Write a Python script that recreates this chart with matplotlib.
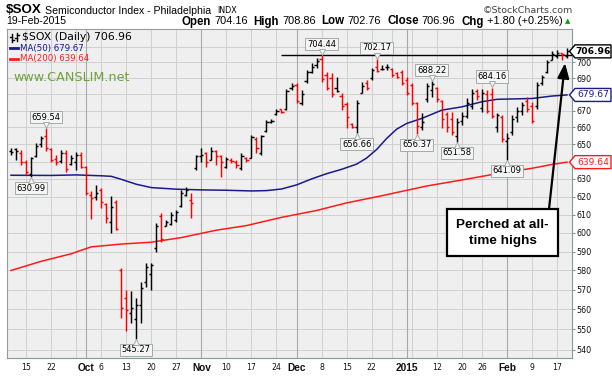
import numpy as np
import pandas as pd
import matplotlib
matplotlib.use('Agg')
import matplotlib.pyplot as plt
from matplotlib.transforms import IdentityTransform, offset_copy
from matplotlib.patches import Polygon, Rectangle, FancyArrowPatch, ArrowStyle
from matplotlib.lines import Line2D
from matplotlib.ticker import FixedLocator, NullLocator, FuncFormatter

plt.rcParams['font.family'] = ['DejaVu Sans']

# ---------------- data ----------------
start_date, end_date = '2014-09-10', '2015-02-19'
holidays = ['2014-11-27', '2014-12-25', '2015-01-01', '2015-01-19', '2015-02-16']

opens = [646, 647, 645, 640, 633, 643, 650, 655, 647, 641.5,
         640.5, 645, 638.5, 640, 644, 637, 621, 620, 624, 616,
         606, 617, 580, 566, 558, 555, 562, 574, 578, 592,
         609, 604, 605, 607, 615, 621, 618, 636, 643, 645,
         641, 646, 643, 637, 641, 640, 636, 642, 642, 653,
         645, 658, 663, 668, 671, 671, 684, 686, 675, 688,
         694, 698, 702, 692, 690, 684, 679, 674, 662, 660,
         681, 687, 690, 697, 696, 697, 696, 693, 694, 689,
         686, 675, 660, 677, 683, 684, 676, 668, 665, 655,
         664, 667, 673, 682, 672, 680, 680, 660, 666, 652,
         657, 666, 670, 676, 673, 673, 687, 694, 701.5, 704,
         706, 704.16]
highs = [647.7, 647.7, 646.7, 640.9, 642.8, 650.6, 655, 659.54, 647.7, 643.8,
         646.7, 646.7, 643.8, 645.7, 645.7, 637.4, 622.9, 626.6, 624.8, 616.4,
         620.1, 618.2, 581.2, 569.9, 569.1, 565.6, 574.2, 583.9, 583.9, 605.3,
         610.8, 607.1, 611.7, 612.6, 623.8, 625.7, 622, 643.8, 647.7, 645.7,
         648.6, 646.7, 643.8, 642.8, 641.9, 640.9, 644.8, 642.8, 655.5, 654.5,
         655.5, 664.4, 664.8, 671.4, 671.4, 683.6, 686.8, 686.8, 682.6, 695.1,
         699.3, 702.6, 704.44, 694, 693, 690.9, 680.6, 675.5, 662.4, 676.5,
         687.8, 688.8, 696.2, 702.17, 698.3, 698.9, 696.2, 694, 695.1, 690.9,
         687, 675.5, 668.4, 686.8, 688.22, 684.7, 676.5, 669.4, 669.4, 665.4,
         669.4, 677.5, 683.6, 683.6, 683.6, 682.6, 684.16, 668.4, 667.4, 656.5,
         667.4, 672.4, 675.5, 678.6, 675.5, 687.8, 691.9, 701.4, 706.9, 707.9,
         706.2, 708.86]
lows = [643.8, 640.9, 638, 632.3, 630.99, 642.8, 648.5, 646, 639.9, 638,
        639, 634.2, 638, 635.1, 636.1, 621, 607.5, 618.2, 613.6, 605.3,
        599.8, 601.6, 555.5, 548.9, 553, 545.27, 553, 571.6, 569.9, 589.7,
        595.3, 603.8, 604.4, 606.2, 614.5, 620.1, 608.1, 635.1, 640, 637.1,
        640.9, 638, 631.3, 636.1, 639, 636.1, 635.1, 640, 641.9, 644.8,
        643.8, 657.5, 662.4, 667.4, 668.4, 670.4, 682.6, 674.5, 673.5, 686.8,
        693, 696.2, 687.8, 682.6, 678.6, 681.6, 670.4, 659.5, 659.5, 656.66,
        680.6, 682.6, 688.8, 694, 695.1, 695.1, 690.9, 689.9, 685.7, 679.6,
        673.5, 656.37, 658.4, 675.5, 678.6, 675.5, 659.5, 657.5, 655.5, 651.58,
        661.4, 665.4, 671.4, 676.5, 669.4, 668.4, 665.4, 657.5, 651.6, 641.09,
        655.5, 663.4, 667.4, 669.4, 662.4, 671.4, 685.7, 693, 701.4, 702.6,
        701.4, 702.76]
closes = [645.5, 646, 639.5, 634, 642, 649, 654, 648, 641, 640,
          645, 635.5, 642, 644, 637, 622, 619, 622, 617, 608,
          614, 602, 560.6, 559.7, 560.5, 562.3, 571, 582, 583, 604,
          596.5, 606, 610, 611.5, 622, 624, 616.4, 643, 644, 640,
          646, 643, 640, 641.5, 640.5, 638, 643, 641, 654.5, 648,
          655, 663, 664, 670, 669, 682, 685, 676, 680, 694,
          697, 701, 689.5, 684, 680, 682, 673, 666, 660.5, 675,
          685, 684, 695, 694.5, 696, 697, 692, 691, 687, 681,
          675, 661, 663, 685, 686.5, 677, 665, 660, 657, 663,
          667, 675, 681, 679, 681, 670, 667, 667.5, 653, 654,
          665, 670, 673.5, 671, 664, 686, 690.5, 700, 705, 706,
          705.16, 706.96]

ma50_dates = ['2014-09-10', '2014-09-22', '2014-09-29', '2014-10-06', '2014-10-08',
              '2014-10-10', '2014-10-15', '2014-10-20', '2014-10-27', '2014-11-03',
              '2014-11-10', '2014-11-17', '2014-11-20', '2014-11-25', '2014-12-01',
              '2014-12-04', '2014-12-09', '2014-12-12', '2014-12-17', '2014-12-19',
              '2014-12-23', '2014-12-26', '2014-12-30', '2015-01-02', '2015-01-07',
              '2015-01-13', '2015-01-20', '2015-01-26', '2015-01-29', '2015-02-09',
              '2015-02-13', '2015-02-19']
ma50_vals = [632.1, 632.0, 632.3, 631.8, 631.5,
             629.8, 627.0, 625.1, 624.2, 623.8,
             623.6, 623.2, 623.4, 624.3, 626.6,
             630.0, 633.0, 635.5, 638.5, 642.0,
             647.0, 653.5, 659.0, 662.4, 665.4,
             670.4, 672.4, 675.5, 677.0, 677.5,
             679.0, 679.67]
ma200_dates = ['2014-09-10', '2014-09-18', '2014-09-26', '2014-10-02', '2014-10-10',
               '2014-10-20', '2014-10-28', '2014-11-06', '2014-11-14', '2014-11-25',
               '2014-12-05', '2014-12-15', '2014-12-24', '2015-01-08', '2015-01-20',
               '2015-01-29', '2015-02-09', '2015-02-13', '2015-02-19']
ma200_vals = [580.0, 584.8, 588.8, 592.5, 594.0,
              595.0, 597.5, 601.5, 604.0, 608.5,
              612.3, 616.5, 620.5, 626.0, 629.4,
              633.0, 636.1, 638.3, 639.64]

tick_dates = ['2014-09-15', '2014-09-22', '2014-10-01', '2014-10-06', '2014-10-13',
              '2014-10-20', '2014-10-27', '2014-11-03', '2014-11-10', '2014-11-17',
              '2014-11-24', '2014-12-01', '2014-12-08', '2014-12-15', '2014-12-22',
              '2015-01-02', '2015-01-12', '2015-01-20', '2015-01-26', '2015-02-02',
              '2015-02-09', '2015-02-17']
tick_labels = ['15', '22', 'Oct', '6', '13', '20', '27', 'Nov', '10', '17', '24',
               'Dec', '8', '15', '22', '2015', '12', '20', '26', 'Feb', '9', '17']
month_labels = ['Oct', 'Nov', 'Dec', '2015', 'Feb']

high_marks = ['2014-09-19', '2014-12-08', '2014-12-23', '2015-01-09', '2015-01-28']
low_marks = ['2014-09-16', '2014-10-15', '2014-12-17', '2015-01-06', '2015-01-16', '2015-02-02']
resistance_level = 704.44
resistance_start = '2014-11-25'
y_ticks = list(range(540, 711, 10))

# ---------------- figure ----------------
W, H = 612, 376
fig = plt.figure(figsize=(W / 100, H / 100), dpi=100)
fig.patch.set_facecolor('white')

dates = pd.bdate_range(start_date, end_date)
dates = dates[~dates.isin(pd.to_datetime(holidays))]
pos = {d.strftime('%Y-%m-%d'): k for k, d in enumerate(dates)}
x = np.arange(len(dates))

o = np.array(opens); h = np.array(highs); l = np.array(lows); c = np.array(closes)
tag_values = [c[-1], ma50_vals[-1], ma200_vals[-1]]

L_px, R_px, T_px, B_px = 7, 572, 29, 358
ax = fig.add_axes([L_px / W, (H - B_px) / H, (R_px - L_px) / W, (B_px - T_px) / H])
ax.set_facecolor('#efefef')
ax.set_yscale('log')
ax.set_ylim(535.9, 721.4)
ax.set_xlim(-0.8, 112.0)
ax.set_axisbelow(True)


def ylab(v, p):
    # tick labels hidden behind the value tags are left blank
    if any(abs(np.log(v / t)) < 0.0065 for t in tag_values):
        return ''
    return f'{v:.0f}'


ax.yaxis.set_major_locator(FixedLocator(y_ticks))
ax.yaxis.set_minor_locator(NullLocator())
ax.yaxis.set_major_formatter(FuncFormatter(ylab))
ax.yaxis.set_minor_formatter(FuncFormatter(lambda v, p: ''))
ax.yaxis.grid(True, color='#d0d0d0', lw=0.7)
wk = [d.isocalendar()[1] for d in dates]
mo = [d.month for d in dates]
for k in range(1, len(dates)):
    if mo[k] != mo[k - 1]:
        ax.axvline(k, color='#a8a8a8', lw=0.8, zorder=0.6)
    elif wk[k] != wk[k - 1]:
        ax.axvline(k, color='#d0d0d0', lw=0.7, zorder=0.5)

# moving averages
ax.plot([pos[d] for d in ma50_dates], ma50_vals, color='#1a1a8c', lw=1.1, zorder=2)
ax.plot([pos[d] for d in ma200_dates], ma200_vals, color='#ff1a1a', lw=1.1, zorder=2)

# OHLC bars
prev = np.r_[c[0], c[:-1]]
cols = np.where(c < prev, '#ff0000', '#000000')
tw = 0.42
ax.vlines(x, l, h, colors=cols, lw=1.05, zorder=3)
ax.hlines(o, x - tw, x, colors=cols, lw=1.05, zorder=3)
ax.hlines(c, x, x + tw, colors=cols, lw=1.05, zorder=3)

# resistance line
ax.hlines(resistance_level, pos[resistance_start], 112.0, color='black', lw=1.0, zorder=2.5)

# price labels with small pointer notch
box = dict(boxstyle='square,pad=0.2', fc='#f4f4f4', ec='#a3aaaa', lw=0.7)
for d in high_marks:
    k = pos[d]
    ax.annotate(f'{h[k]:.2f}', xy=(k, h[k]), xytext=(0, 8), textcoords='offset points',
                ha='center', va='center', fontsize=6, bbox=box, zorder=6)
    ax.plot([k], [h[k]], marker='v', ms=4.5, mfc='#f4f4f4', mec='#a3aaaa', mew=0.7,
            transform=offset_copy(ax.transData, fig, y=3.2, units='dots'), zorder=7)
for d in low_marks:
    k = pos[d]
    ax.annotate(f'{l[k]:.2f}', xy=(k, l[k]), xytext=(0, -8), textcoords='offset points',
                ha='center', va='center', fontsize=6, bbox=box, zorder=6)
    ax.plot([k], [l[k]], marker='^', ms=4.5, mfc='#f4f4f4', mec='#a3aaaa', mew=0.7,
            transform=offset_copy(ax.transData, fig, y=-3.2, units='dots'), zorder=7)

# axes styling
ax.yaxis.tick_right()
ax.tick_params(axis='y', which='major', labelsize=5.8, length=2.5, width=0.7,
               color='#888888', pad=1, labelcolor='#111111')
ax.set_xticks([pos[d] for d in tick_dates])
ax.set_xticklabels(tick_labels)
ax.tick_params(axis='x', length=0, pad=3.5, labelsize=5.6, labelcolor='#111111')
for t in ax.get_xticklabels():
    if t.get_text() in month_labels:
        t.set_fontweight('bold')
        t.set_fontsize(7.3)
        t.set_family('Liberation Sans')
for s in ['left', 'top']:
    ax.spines[s].set_color('#9a9a9a')
    ax.spines[s].set_linewidth(0.8)
for s in ['right', 'bottom']:
    ax.spines[s].set_color('#7f9f9f')
    ax.spines[s].set_linewidth(0.8)
    ax.spines[s].set_linestyle((0, (1, 1)))

IT = IdentityTransform()


def ftext(xp, yp, s, **kw):
    return fig.text(xp, H - yp, s, transform=IT, **kw)


# header line 1
ftext(6, 10, '$SOX', family='Liberation Sans', fontweight='bold', fontsize=9.6, va='center')
ftext(45, 10.5, 'Semiconductor Index - Philadelphia', family='Liberation Sans', fontsize=7.6, va='center')
ftext(217, 10.5, 'INDX', fontsize=5.8, va='center')
ftext(573, 10.5, '\u00a9StockCharts.com', fontsize=6.8, color='#444444', va='center', ha='right')

# header line 2
ftext(6, 21.5, '19-Feb-2015', family='Liberation Sans', fontsize=7.5, va='center')
renderer = fig.canvas.get_renderer()
segs = [('Open', True, 3), ('704.16', False, 6), ('High', True, 3), ('708.86', False, 6),
        ('Low', True, 3), ('702.76', False, 6), ('Close', True, 3), ('706.96', False, 6),
        ('Chg', True, 3), ('+1.80 (+0.25%)', False, 2)]
objs = []
for s, b, g in segs:
    t = ftext(0, 21.5, s, family='Liberation Sans', fontsize=8.3 if b else 7.9,
              fontweight='bold' if b else 'normal', va='center', ha='left')
    objs.append((t, t.get_window_extent(renderer).width, g))
tri = ftext(0, 21.5, '\u25b2', fontsize=5, color='#00a000', va='center', ha='left')
tri_w = tri.get_window_extent(renderer).width
total = sum(w + g for _, w, g in objs) + tri_w
xx = 570 - total
for t, w, g in objs:
    t.set_position((xx, H - 21.5))
    xx += w + g
tri.set_position((xx, H - 21.5))

# legend inside plot
icon = [((12, 34), (12, 42)), ((10, 37), (12, 37)), ((12, 40), (14, 40)),
        ((17, 33), (17, 41)), ((15, 38), (17, 38)), ((17, 35), (19, 35))]
for (x0, y0), (x1, y1) in icon:
    fig.add_artist(Line2D([x0, x1], [H - y0, H - y1], transform=IT, color='black', lw=1))
ftext(22, 37.5, '$SOX (Daily) 706.96', fontsize=7.8, va='center')
fig.add_artist(Line2D([10, 18], [H - 48.3, H - 48.3], transform=IT, color='#1a1a8c', lw=2))
ftext(20, 48.3, f'MA(50) {ma50_vals[-1]:.2f}', fontsize=6.2, color='#1a1a8c', va='center')
fig.add_artist(Line2D([10, 18], [H - 59, H - 59], transform=IT, color='#ff1a1a', lw=2))
ftext(20, 59, f'MA(200) {ma200_vals[-1]:.2f}', fontsize=6.2, color='#ff1a1a', va='center')
ftext(13, 77.3, 'www.CANSLIM.net', fontsize=9.2, color='#6ca23a', va='center')


# right-side value tags
def tag(value, text, fg, ec, bold=False):
    yd = ax.transData.transform((0, value))[1]
    hh = 6.5
    pts = [(569.5, yd), (575, yd + hh), (611, yd + hh), (611, yd - hh), (575, yd - hh)]
    fig.add_artist(Polygon(pts, closed=True, transform=IT, fc='white', ec=ec, lw=1.0, zorder=10))
    fig.text(593, yd, text, transform=IT, ha='center', va='center', fontsize=6.6,
             color=fg, fontweight='bold' if bold else 'normal', zorder=11)


tag(c[-1], f'{c[-1]:.2f}', 'black', 'black', bold=True)
tag(ma50_vals[-1], f'{ma50_vals[-1]:.2f}', '#1a1a8c', '#1a1a8c')
tag(ma200_vals[-1], f'{ma200_vals[-1]:.2f}', '#ff1a1a', '#ff1a1a')

# callout box and arrow
fig.add_artist(FancyArrowPatch(posA=(549, H - 209), posB=(565, H - 63), transform=IT,
                               arrowstyle=ArrowStyle('-|>', head_length=0.9, head_width=0.35),
                               mutation_scale=10, color='black', lw=1.6,
                               shrinkA=0, shrinkB=0, zorder=8))
fig.add_artist(Rectangle((447, H - 256), 111, 47, transform=IT, fc='white', ec='black',
                         lw=1.6, zorder=9))
ftext(502.5, 225, 'Perched at all-', family='Liberation Sans', fontweight='bold',
      fontsize=9.7, ha='center', va='center', zorder=10)
ftext(502.5, 241, 'time highs', family='Liberation Sans', fontweight='bold',
      fontsize=9.7, ha='center', va='center', zorder=10)

fig.savefig('out.png', dpi=100)
